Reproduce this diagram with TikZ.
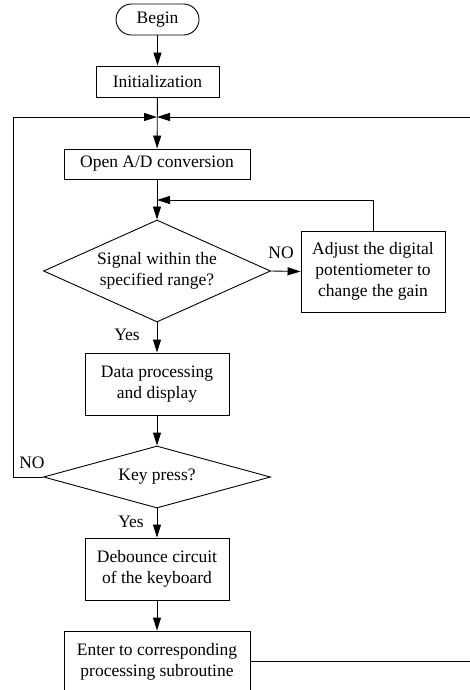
\documentclass[tikz,border=0pt]{standalone}
\usepackage{fontspec}
\setmainfont{Liberation Serif}
\usetikzlibrary{arrows.meta,shapes.geometric}
\begin{document}
\begin{tikzpicture}[x=1pt,y=-1pt,
  every node/.style={font=\fontsize{17.5}{21}\selectfont},
  conn/.style={line width=0.9pt,-{Triangle[length=13pt,width=8pt]}},
  line/.style={line width=0.9pt},
  procbox/.style={draw,line width=0.9pt,rectangle,align=center,inner sep=0pt},
  termbox/.style={draw,line width=0.9pt,rectangle,rounded corners=15.5pt,inner sep=0pt,
    minimum width=83pt,minimum height=31pt},
  decide/.style={draw,line width=0.9pt,diamond,align=center,inner sep=0pt},
  tag/.style={inner sep=0pt}]
\useasboundingbox (0,0) rectangle (470,690);
\clip (0,0) rectangle (470,690);

% process steps
\node[termbox] (begin) at (157.5,19.5) {Begin};
\node[procbox,minimum width=123pt,minimum height=31pt] (init) at (157.5,81.5) {Initialization};
\node[procbox,minimum width=186pt,minimum height=30pt] (opend) at (157,164) {Open A/D conversion};
\node[decide,minimum width=227pt,minimum height=102pt,aspect=2.23] (range) at (157,271)
  {Signal within the\\specified range?};
\node[procbox,minimum width=144pt,minimum height=81pt] (adjust) at (373,271.5)
  {Adjust the digital\\potentiometer to\\change the gain};
\node[procbox,minimum width=144pt,minimum height=62pt] (data) at (157,384)
  {Data processing\\and display};
\node[decide,minimum width=227pt,minimum height=62pt,aspect=3.66] (key) at (157,477) {Key press?};
\node[procbox,minimum width=144pt,minimum height=62pt] (debounce) at (157,569)
  {Debounce circuit\\of the keyboard};
\node[procbox,minimum width=186pt,minimum height=61pt] (enter) at (157,661.5)
  {Enter to corresponding\\processing subroutine};

% junction points of the loops
\coordinate (merge) at (157,117);
\coordinate (inner) at (157,200);
\coordinate (leftcorner) at (13,117);
\coordinate (rightcorner) at (480,117);

% labels
\node[tag] (no1) at (281,253) {NO};
\node[tag] (yes1) at (127,335) {Yes};
\node[tag] (no2) at (32,463) {NO};
\node[tag] (yes2) at (131,522) {Yes};

% main flow
\draw[conn] (begin) -- (init);
\draw[conn] (init) -- (opend);
\draw[conn] (opend) -- (range);
\draw[conn] (range) -- (data);
\draw[conn] (data) -- (key);
\draw[conn] (key) -- (debounce);
\draw[conn] (debounce) -- (enter);

% gain adjustment loop
\draw[conn] (range.east) -- (adjust.west);
\draw[conn] (adjust.north) |- (inner);

% outer loops back to the A/D step
\draw[conn] (key.west) -| (leftcorner) -- (merge);
\draw[conn] (enter.east) -| (rightcorner) -- (merge);
\end{tikzpicture}
\end{document}
